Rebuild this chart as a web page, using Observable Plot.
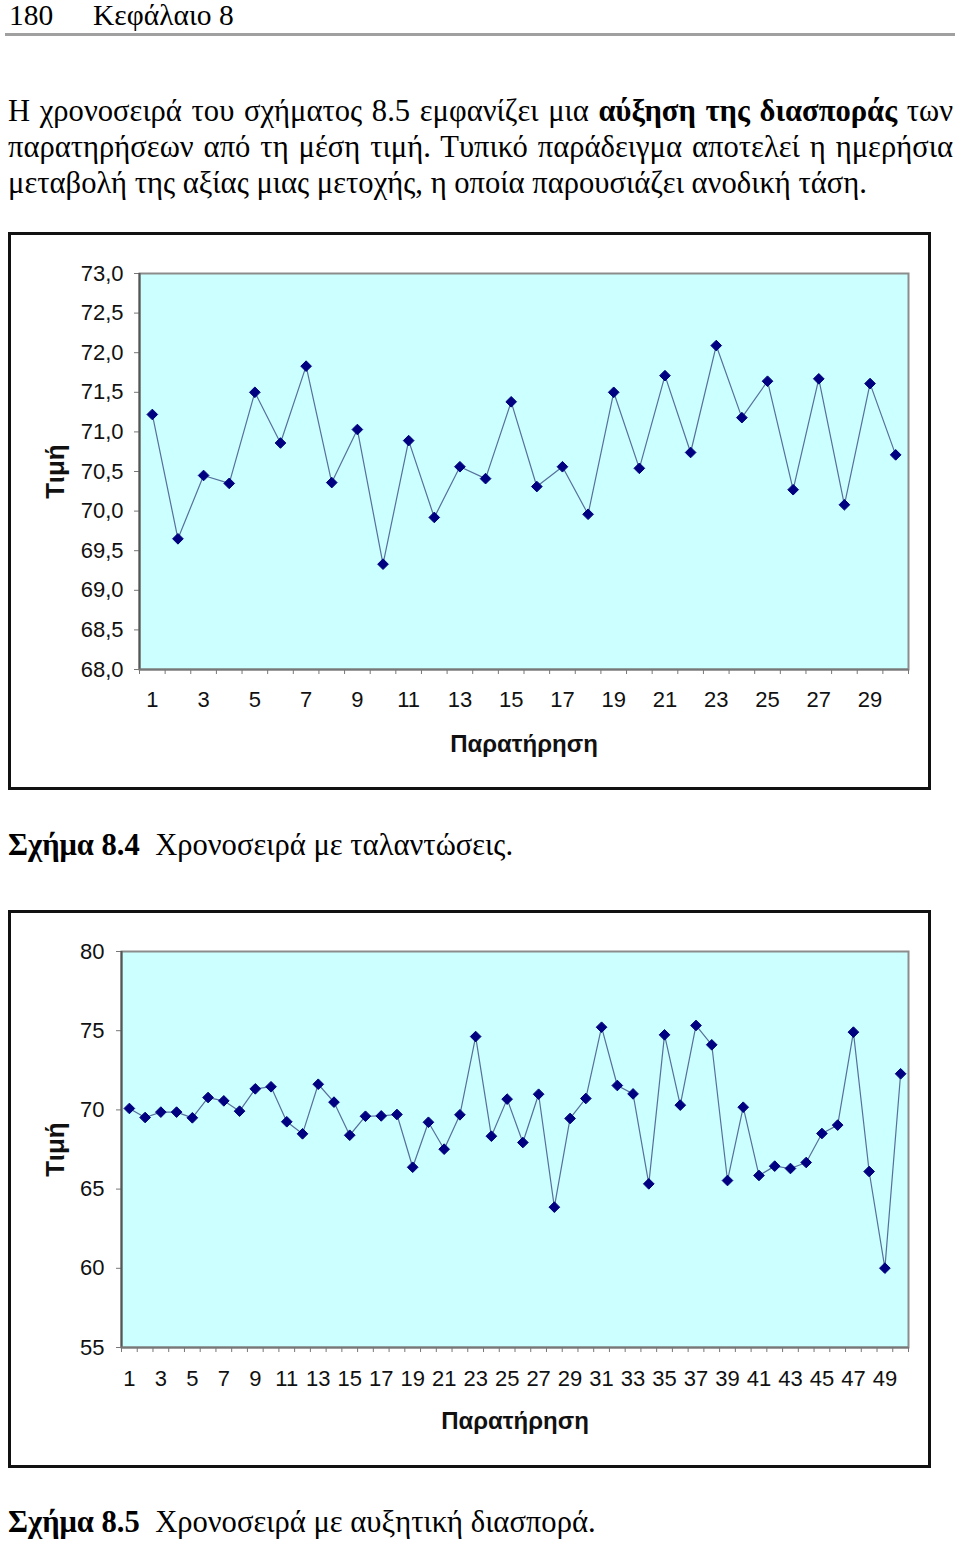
<!DOCTYPE html>
<html>
<head>
<meta charset="utf-8">
<script src="https://cdn.jsdelivr.net/npm/d3@7"></script>
<script src="https://cdn.jsdelivr.net/npm/@observablehq/plot@0.6"></script>
<style>
  html, body { margin: 0; padding: 0; background: #fff; }
  body { width: 960px; height: 1541px; position: relative; overflow: hidden; color: #000; }
  .serif { font-family: "Liberation Serif", "DejaVu Serif", serif; position: absolute; white-space: nowrap; }
  #hdr { left: 9px; top: 1px; font-size: 29.5px; line-height: 29px; }
  #hdr span.ch { position: absolute; left: 84px; }
  #rule { position: absolute; left: 5px; top: 33px; width: 950px; height: 3px; background: #a0a0a0; }
  .pline { left: 8px; width: 945px; font-size: 30.6px; line-height: 36px; text-align: justify; text-align-last: justify; }
  .pline.last { text-align-last: left; width: auto; }
  .cap { left: 8px; font-size: 30.6px; line-height: 36px; }
  .box { position: absolute; left: 8px; width: 917px; height: 552px; border: 3px solid #111; background: #fff; }
  .box svg { display: block; }
</style>
</head>
<body>
<div id="hdr" class="serif">180<span class="ch">Κεφάλαιο 8</span></div>
<div id="rule"></div>
<div class="serif pline" style="top:93px">Η χρονοσειρά του σχήματος 8.5 εμφανίζει μια <b>αύξηση της διασποράς</b> των</div>
<div class="serif pline" style="top:129px">παρατηρήσεων από τη μέση τιμή. Τυπικό παράδειγμα αποτελεί η ημερήσια</div>
<div class="serif pline last" style="top:165px">μεταβολή της αξίας μιας μετοχής, η οποία παρουσιάζει ανοδική τάση.</div>

<div id="chart1" class="box" style="top:232px"></div>
<div class="serif cap" style="top:827px"><b>Σχήμα 8.4</b>&nbsp; Χρονοσειρά με ταλαντώσεις.</div>

<div id="chart2" class="box" style="top:910px"></div>
<div class="serif cap" style="top:1504px"><b>Σχήμα 8.5</b>&nbsp; Χρονοσειρά με αυξητική διασπορά.</div>

<script>
// ---- Data ----
const values1 = [71.22, 69.65, 70.45, 70.35, 71.50, 70.86, 71.83, 70.36, 71.03, 69.33,
                 70.89, 69.92, 70.56, 70.41, 71.38, 70.31, 70.56, 69.96, 71.50, 70.54,
                 71.71, 70.74, 72.09, 71.18, 71.64, 70.27, 71.67, 70.08, 71.61, 70.71];
const yTicks1 = [68.0, 68.5, 69.0, 69.5, 70.0, 70.5, 71.0, 71.5, 72.0, 72.5, 73.0];
const xLabels1 = [1, 3, 5, 7, 9, 11, 13, 15, 17, 19, 21, 23, 25, 27, 29];

const values2 = [70.09, 69.52, 69.86, 69.86, 69.50, 70.78, 70.57, 69.92, 71.33, 71.46,
                 69.25, 68.49, 71.62, 70.49, 68.40, 69.60, 69.62, 69.71, 66.38, 69.22,
                 67.52, 69.69, 74.63, 68.34, 70.68, 67.94, 70.99, 63.86, 69.46, 70.72,
                 75.22, 71.54, 71.01, 65.33, 74.74, 70.30, 75.33, 74.11, 65.54, 70.17,
                 65.86, 66.45, 66.30, 66.68, 68.51, 69.04, 74.91, 66.11, 60.01, 72.28];
const yTicks2 = [55, 60, 65, 70, 75, 80];
const xLabels2 = [1, 3, 5, 7, 9, 11, 13, 15, 17, 19, 21, 23, 25, 27, 29, 31, 33, 35, 37, 39, 41, 43, 45, 47, 49];

const yLabel = "Τιμή";
const xLabel = "Παρατήρηση";

function makeChart(values, yTicks, xLabels, yFormat, opts) {
  const data = values.map((v, i) => ({obs: i + 1, value: v}));
  const n = values.length;
  const bounds = d3.range(0, n + 1).map(k => k + 0.5);
  return Plot.plot({
    width: 917,
    height: 552,
    marginLeft: opts.marginLeft,
    marginRight: 20,
    marginTop: 38,
    marginBottom: 118,
    style: {fontFamily: "'Liberation Sans', Arial, sans-serif", fontSize: "22px", color: "#111", background: "#fff"},
    x: {domain: [0.5, n + 0.5]},
    y: {domain: [yTicks[0], yTicks[yTicks.length - 1]]},
    marks: [
      Plot.frame({fill: "#ccffff", stroke: "#8c8c8c", strokeWidth: 2}),
      Plot.axisY({ticks: yTicks, tickFormat: yFormat, tickSize: 5, tickPadding: opts.yPad, stroke: "#777", fontSize: 22, label: null}),
      Plot.axisX({ticks: xLabels, tickFormat: d => String(d), tickSize: 0, tickPadding: opts.xPad, fontSize: 22, label: null}),
      Plot.axisX({ticks: bounds, tickFormat: () => "", tickSize: 5, stroke: "#777", label: null}),
      Plot.ruleX([0.5], {stroke: "#555", strokeWidth: 2}),
      Plot.ruleY([yTicks[0]], {stroke: "#777", strokeWidth: 2}),
      Plot.line(data, {x: "obs", y: "value", stroke: "#56709c", strokeWidth: 1.2}),
      Plot.dot(data, {x: "obs", y: "value", symbol: "diamond2", fill: "#000080", stroke: "#000080", strokeWidth: 1, r: 4.8}),
      Plot.text([yLabel], {frameAnchor: "left", dx: opts.yLabelDx, rotate: -90, textAnchor: "middle", lineAnchor: "middle", fontWeight: "bold", fontSize: 26, fill: "#111"}),
      Plot.text([xLabel], {frameAnchor: "bottom", dy: opts.xLabelDy, textAnchor: "middle", lineAnchor: "middle", fontWeight: "bold", fontSize: 24, fill: "#111"})
    ]
  });
}

document.getElementById("chart1").appendChild(
  makeChart(values1, yTicks1, xLabels1, d => d.toFixed(1).replace(".", ","),
    {marginLeft: 128, yPad: 11, xPad: 22, yLabelDx: -84, xLabelDy: 75}));
document.getElementById("chart2").appendChild(
  makeChart(values2, yTicks2, xLabels2, d => String(d),
    {marginLeft: 110, yPad: 12, xPad: 23, yLabelDx: -66, xLabelDy: 74}));
</script>
</body>
</html>
